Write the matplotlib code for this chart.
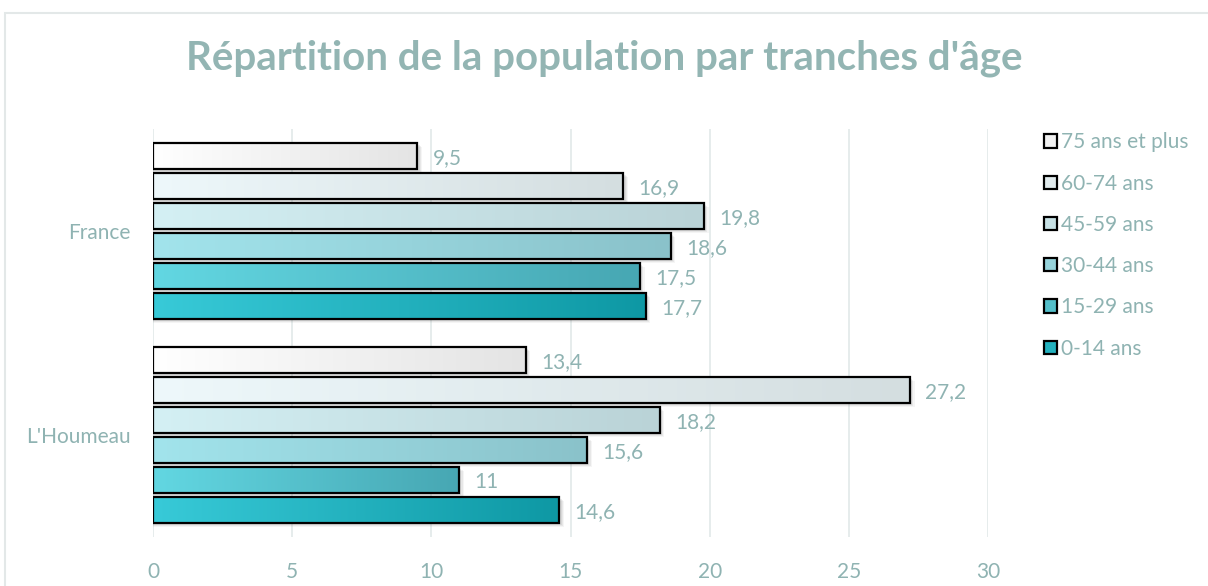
# -*- coding: utf-8 -*-
""" Répartition de la population par tranches d'âge (barres horizontales). """

import numpy as np
import matplotlib.pyplot as plt
from matplotlib.patches import Rectangle, Patch
from matplotlib.colors import LinearSegmentedColormap

# data
categories = ["L'Houmeau", 'France']
series = ['0-14 ans', '15-29 ans', '30-44 ans', '45-59 ans', '60-74 ans', '75 ans et plus']
houmeau = [14.6, 11.0, 15.6, 18.2, 27.2, 13.4]
france = [17.7, 17.5, 18.6, 19.8, 16.9, 9.5]
xticks = [0, 5, 10, 15, 20, 25, 30]

# left / right colours of each gradient
grad = [('#38cad8', '#0e98a4'),
        ('#62d7e2', '#47a7b3'),
        ('#a2e4ec', '#8ac2ca'),
        ('#d4f0f4', '#bad3d7'),
        ('#eef8fb', '#d4dee0'),
        ('#ffffff', '#e4e4e4')]

txt = '#8fb3b2'
plt.rcParams['font.family'] = ['Lato', 'DejaVu Sans']

fig = plt.figure(figsize=(12.08, 5.86), dpi=100)
W, H = 1208, 586

# outer chart border
fig.patches.append(Rectangle((5 / W, -0.1), 1.2, (586 - 13) / H + 0.1,
                             transform=fig.transFigure, fill=False,
                             edgecolor='#e3e8e8', lw=1.5))

ax = fig.add_axes([153 / W, 49 / H, 835 / W, 408 / H])

slot = 0.147
bh = 0.128
vals = [houmeau, france]
for ci in range(len(categories)):
    for si in range(len(series)):
        v = vals[ci][si]
        yc = ci + (si - 2.5) * slot
        y0 = yc - bh / 2
        # shadow
        for k, a in enumerate([0.10, 0.08, 0.06]):
            ax.add_patch(Rectangle((0.0, y0 - 0.008 - 0.006 * k), v + 0.08 + 0.04 * k, bh,
                                   facecolor='#555555', edgecolor='none',
                                   alpha=a, zorder=1.5))
        # gradient fill
        cmap = LinearSegmentedColormap.from_list('g', grad[si])
        im = ax.imshow(np.linspace(0, 1, 256).reshape(1, -1), cmap=cmap,
                       extent=[0, v, y0, y0 + bh], aspect='auto', zorder=2,
                       interpolation='bilinear')
        rect = Rectangle((0, y0), v, bh, facecolor='none', edgecolor='black',
                         lw=1.6, zorder=3)
        ax.add_patch(rect)
        im.set_clip_path(rect)
        lab = ('%g' % v).replace('.', ',')
        ax.text(v + 0.55, yc - 0.01, lab, color=txt, fontsize=15,
                va='center', ha='left', zorder=4)

ax.set_xlim(0, 30)
ax.set_ylim(-0.5, 1.5)
ax.set_xticks(xticks)
ax.set_yticks([0, 1])
ax.set_yticklabels(categories)
ax.grid(axis='x', color='#e2e9e9', lw=1.2, zorder=0)
ax.set_axisbelow(True)
for s in ax.spines.values():
    s.set_visible(False)
ax.tick_params(length=0, colors=txt, labelsize=15)
ax.tick_params(axis='x', pad=18)
ax.tick_params(axis='y', pad=16)

fig.text(0.5, 1 - 58 / H, "Répartition de la population par tranches d'âge",
         ha='center', va='center', color='#93b5b3', fontsize=29,
         fontweight='bold')

# legend squares use the middle of each gradient
handles = []
for i in range(len(series) - 1, -1, -1):
    cmap = LinearSegmentedColormap.from_list('g', grad[i])
    handles.append(Patch(facecolor=cmap(0.5), edgecolor='black', lw=1.6,
                         label=series[i]))
leg = fig.legend(handles=handles, loc='upper left',
                 bbox_to_anchor=(1036 / W, 1 - 124 / H), frameon=False,
                 fontsize=15, handlelength=0.6, handleheight=0.6,
                 handletextpad=0.2, labelspacing=1.02, borderaxespad=0)
for t in leg.get_texts():
    t.set_color(txt)

plt.savefig('out.png', dpi=100)
